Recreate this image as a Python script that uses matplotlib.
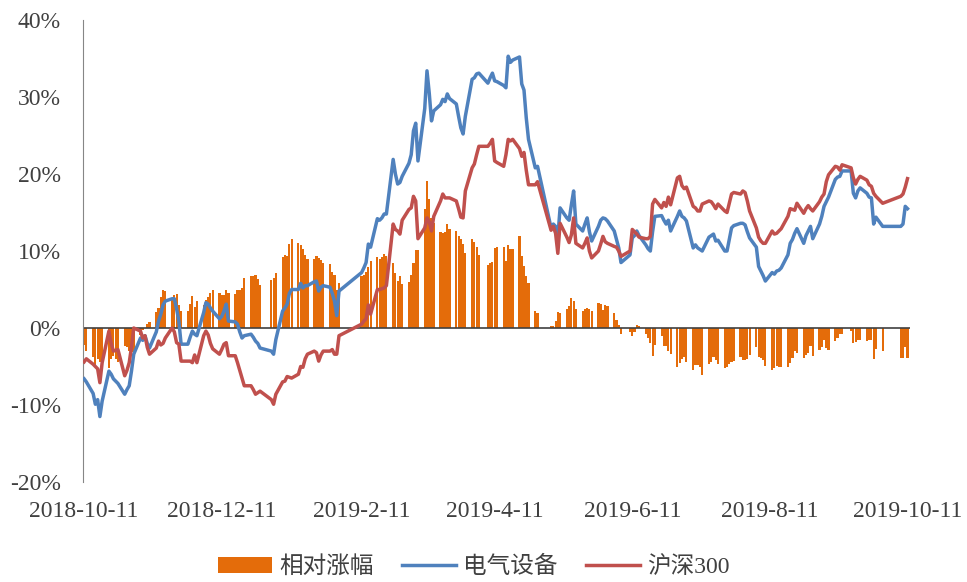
import matplotlib
matplotlib.use("Agg")
import matplotlib.pyplot as plt
import matplotlib.ticker as mticker
import pandas as pd
import numpy as np

plt.rcParams['font.family'] = ['Liberation Serif', 'Noto Sans CJK SC']

# trading days, 2018-10-11 .. 2019-10-11 (SSE holidays removed)
holidays = ['2018-12-31', '2019-01-01', '2019-02-04', '2019-02-05', '2019-02-06',
            '2019-02-07', '2019-02-08', '2019-04-05', '2019-05-01', '2019-05-02',
            '2019-05-03', '2019-06-07', '2019-09-13', '2019-10-01', '2019-10-02',
            '2019-10-03', '2019-10-04', '2019-10-07']
days = pd.bdate_range('2018-10-11', '2019-10-11')
days = days[~days.isin(pd.to_datetime(holidays))]

# 电气设备 cumulative return, %, one row per week
elec = [
    -6.6, -7.0,
    -8.5, -9.9, -9.3, -11.5, -9.5,
    -5.6, -6.0, -6.6, -6.9, -7.2,
    -8.6, -8.0, -7.5, -5.6, -3.4,
    -1.3, -1.6, -1.0, -2.0, -2.6,
    -0.5, 0.9, 1.8, 3.0, 3.5,
    3.8, 3.8, 2.5, 0.9, -2.1,
    -2.1, -1.2, -0.4, -0.8, -1.0,
    2.0, 3.3, 3.1, 2.6, 2.2,
    1.2, 1.5, 2.2, 3.1, 0.9,
    0.8, 0.5, -0.5, -1.3, -1.0,
    -0.8, -1.2, -1.7, -2.0, -2.6,
    -3.0, -3.4, -1.5,
    2.2, 2.6, 3.1, 4.5, 5.0,
    5.0, 5.8, 5.2, 5.5, 5.5,
    6.0, 6.1, 4.8, 5.3, 5.5,
    5.3, 4.5, 3.5, 1.6, 4.8,
    7.2, 7.8, 8.5, 10.9, 10.5,
    14.2, 14.0, 14.3, 14.8, 14.8,
    21.9, 20.0, 18.7, 18.9, 19.7,
    21.4, 22.5, 25.6, 26.6, 21.7,
    28.5, 33.4, 30.5, 26.9, 28.2,
    29.0, 29.7, 29.4, 30.4, 29.8,
    29.1, 27.5, 26.0, 25.2, 27.5,
    32.3, 32.5, 33.0, 33.1,
    31.8, 32.5, 33.1, 32.1, 32.0,
    31.5, 31.2, 35.3, 34.5, 34.8,
    35.2, 31.7, 30.9, 27.3, 24.5,
    20.8, 21.0,
    13.0, 13.5, 13.2, 11.8, 15.6,
    14.3, 14.0, 16.0, 17.8, 13.5,
    12.6, 13.5, 14.3, 12.5, 11.3,
    13.2, 14.0, 14.3, 14.2, 13.9,
    12.6, 11.5, 10.4, 8.5,
    9.5, 11.7, 12.0, 12.6, 12.0,
    10.8, 10.3, 10.0, 12.5, 14.5,
    14.6, 14.0, 13.5, 14.0, 12.6,
    14.5, 15.2, 14.5, 14.3, 13.9,
    10.4, 10.8, 10.4, 10.2, 10.0,
    11.8, 12.0, 12.2, 11.3, 11.4,
    10.0, 10.0, 11.5, 13.0, 13.3,
    13.6, 13.6, 13.4, 12.5, 11.7,
    10.5, 8.0, 7.4, 6.8, 6.1,
    7.2, 7.0, 7.4, 7.5, 7.8,
    9.5, 11.0, 11.5, 12.3, 12.9,
    11.0, 12.0, 12.6, 13.2, 11.6,
    13.5, 14.5, 15.8, 16.4, 17.0,
    19.3, 19.6, 19.7, 20.4,
    20.4, 17.5, 16.9, 17.8, 18.2,
    17.5, 17.0, 16.9, 13.5, 14.4,
    13.2,
    13.2, 13.5, 15.8, 15.5,
]

# 沪深300 cumulative return, %
hs300 = [
    -4.4, -4.0,
    -4.7, -5.0, -5.3, -7.1, -4.5,
    -0.4, -2.0, -3.0, -2.9, -2.8,
    -6.2, -5.5, -4.5, -2.5, 0.0,
    -0.4, -1.3, -1.0, -2.5, -3.4,
    -2.6, -1.7, -2.2, -2.0, -1.3,
    0.0, -0.5, -1.9, -2.1, -4.3,
    -4.3, -4.3, -4.5, -3.5, -4.5,
    -1.0, -0.4, -0.9, -2.0, -2.7,
    -3.4, -2.8, -2.1, -1.9, -3.6,
    -3.6, -4.5, -5.5, -6.5, -7.5,
    -7.5, -8.0, -8.6, -8.4, -8.2,
    -9.3, -9.9, -8.6,
    -7.0, -6.9, -6.3, -6.4, -6.5,
    -6.0, -5.0, -5.1, -4.0, -3.4,
    -3.0, -3.2, -4.3, -3.5, -3.0,
    -3.0, -2.8, -3.4, -3.4, -1.0,
    0.5, 0.9, 1.2, 3.0, 1.8,
    5.0, 5.0, 5.1, 5.2, 5.5,
    13.5, 12.8, 12.6, 12.2, 14.0,
    15.4, 15.6, 17.1, 16.5, 11.6,
    13.0, 14.3, 13.8, 12.6, 14.5,
    16.5, 17.4, 16.9, 16.9, 16.9,
    16.5, 15.5, 14.4, 14.3, 17.8,
    20.8, 21.3, 22.5, 23.6,
    23.6, 24.0, 24.5, 21.7, 21.5,
    21.0, 22.5, 24.5, 24.3, 24.5,
    23.3, 22.3, 22.8, 20.5, 18.6,
    18.6, 19.0,
    12.7, 13.2, 12.3, 9.7, 13.6,
    11.8, 11.1, 12.1, 14.3, 11.0,
    10.4, 11.0, 11.7, 10.0, 9.1,
    10.0, 10.9, 11.9, 11.2, 11.0,
    10.6, 10.5, 10.0, 9.3,
    10.0, 12.8, 12.5, 12.2, 11.8,
    11.6, 11.6, 11.9, 16.1, 16.7,
    15.6, 16.3, 15.8, 17.0, 16.0,
    19.5, 19.7, 18.5, 18.1, 18.3,
    15.8, 15.6, 15.2, 15.2, 16.1,
    16.5, 16.4, 16.0, 15.5, 16.1,
    15.2, 15.0, 16.2, 17.4, 17.6,
    17.4, 17.8, 17.6, 16.5, 15.2,
    13.0, 11.8, 11.3, 11.0, 11.0,
    12.6, 12.2, 12.3, 12.6, 12.9,
    14.5, 15.5, 15.4, 15.3, 16.2,
    14.9, 15.5, 15.9, 15.5, 15.2,
    16.4, 17.0, 17.4, 19.0, 19.9,
    21.0, 20.9, 20.5, 21.2,
    20.8, 19.5, 18.7, 19.3, 19.7,
    19.2, 18.6, 18.4, 17.5, 17.1,
    16.2,
    17.1, 17.4, 18.3, 19.4,
]

tick_dates = ['2018-10-11', '2018-12-11', '2019-02-11', '2019-04-11',
              '2019-06-11', '2019-08-11', '2019-10-11']
tick_labels = ['2018-10-11', '2018-12-11', '2019-2-11', '2019-4-11',
               '2019-6-11', '2019-8-11', '2019-10-11']

elec = np.array(elec)
hs300 = np.array(hs300)
rel = elec - hs300  # 相对涨幅

fig = plt.figure(figsize=(9.67, 5.82), dpi=100)
ax = fig.add_axes([0.0858, 0.1718, 0.855, 0.7938])

bars = ax.bar(days, rel, width=0.95, color='#E46C0A', linewidth=0,
              label='相对涨幅', zorder=2)
ax.axhline(0, color='#404040', lw=1.2, zorder=2.5)
l1, = ax.plot(days, elec, color='#4F81BD', lw=2.5, label='电气设备', zorder=3)
l2, = ax.plot(days, hs300, color='#C0504D', lw=2.5, label='沪深300', zorder=3)

ax.set_xlim(pd.Timestamp('2018-10-10 12:00'), pd.Timestamp('2019-10-12'))
ax.set_ylim(-20, 40)
ax.yaxis.set_major_locator(mticker.MultipleLocator(10))
ax.yaxis.set_major_formatter(mticker.FuncFormatter(lambda v, p: '%d%%' % v))
ax.set_xticks(pd.to_datetime(tick_dates))
ax.set_xticklabels(tick_labels)

ax.tick_params(axis='both', length=0, labelsize=17, colors='#404040')
ax.tick_params(axis='x', pad=14)
ax.tick_params(axis='y', pad=16)
for s in ['top', 'right', 'bottom']:
    ax.spines[s].set_visible(False)
ax.spines['left'].set_color('#868686')

fig.legend([bars, l1, l2], ['相对涨幅', '电气设备', '沪深300'],
           loc='lower center', bbox_to_anchor=(0.49, -0.03), ncol=3, frameon=False,
           fontsize=17, handlelength=2.3, handletextpad=0.3, columnspacing=1.2,
           labelcolor='#404040')

fig.savefig('out.png', dpi=100)
